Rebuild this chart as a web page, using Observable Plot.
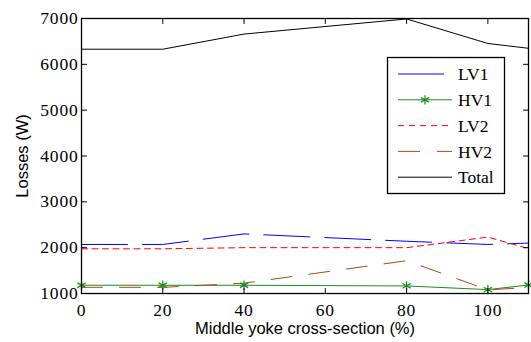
<!DOCTYPE html>
<html><head><meta charset="utf-8">
<script src="https://cdn.jsdelivr.net/npm/d3@7"></script>
<script src="https://cdn.jsdelivr.net/npm/@observablehq/plot@0.6"></script>
<style>
body{margin:0;background:#fff;}
#wrap{position:relative;width:531px;height:342px;}
#legend{position:absolute;left:0;top:0;}
</style>
</head><body><div id="wrap"></div>
<script>
const xs = [0, 20, 40, 80, 100, 110];
const lv1 = [2070, 2070, 2300, 2140, 2070, 2100];
const hv1 = [1180, 1180, 1180, 1165, 1085, 1185];
const lv2 = [1975, 1975, 2000, 2000, 2230, 1980];
const hv2 = [1135, 1135, 1225, 1715, 1080, 1130];
const total = [6330, 6330, 6660, 6990, 6455, 6350];
const xTicks = [0, 20, 40, 60, 80, 100];
const yTicks = [1000, 2000, 3000, 4000, 5000, 6000, 7000];
const seriesNames = ["LV1", "HV1", "LV2", "HV2", "Total"];

const styles = {
  LV1: {stroke: "#0000ff", dash: "46,15"},
  HV1: {stroke: "#1a8c1a", dash: null},
  LV2: {stroke: "#ff0000", dash: "6,4.5"},
  HV2: {stroke: "#a84a1e", dash: "21,17"},
  Total: {stroke: "#000000", dash: null}
};
const seriesVals = {LV1: lv1, HV1: hv1, LV2: lv2, HV2: hv2, Total: total};
const rows = name => xs.map((x, i) => ({x, y: seriesVals[name][i]}));

const tickShape = {draw(ctx, l) { ctx.moveTo(0, 0); ctx.lineTo(0, -l); }};
const tickOpts = {length: 5, anchor: "start", shape: tickShape, stroke: "black", strokeWidth: 1};

const serif = "'Liberation Serif', 'Times New Roman', serif";
const sans = "'Liberation Sans', Arial, sans-serif";

const lineMarks = seriesNames.map(n => Plot.line(rows(n), {
  x: "x", y: "y", stroke: styles[n].stroke, strokeWidth: 1,
  strokeDasharray: styles[n].dash
}));

const chart = Plot.plot({
  width: 531, height: 342,
  marginLeft: 81, marginRight: 3, marginTop: 18, marginBottom: 49,
  style: {fontFamily: serif, fontSize: "16px", background: "white"},
  x: {domain: [0, 110]},
  y: {domain: [1000, 7000]},
  marks: [
    Plot.axisX(xTicks, {tickSize: 0, tickPadding: 10, tickFormat: d3.format("d"), label: null}),
    Plot.axisY(yTicks, {tickSize: 0, tickPadding: 3, tickFormat: d3.format("d"), label: null}),
    ...lineMarks,
    Plot.dot(rows("HV1"), {x: "x", y: "y", symbol: "asterisk", r: 4.5, stroke: styles.HV1.stroke, strokeWidth: 1.2}),
    Plot.vector(xTicks, {x: d => d, y: 1000, rotate: 0, ...tickOpts}),
    Plot.vector(xTicks, {x: d => d, y: 7000, rotate: 180, ...tickOpts}),
    Plot.vector(yTicks, {y: d => d, x: 0, rotate: 90, ...tickOpts}),
    Plot.vector(yTicks, {y: d => d, x: 110, rotate: -90, ...tickOpts}),
    Plot.frame({stroke: "black", strokeWidth: 1.3}),
    Plot.text(["Losses (W)"], {frameAnchor: "left", dx: -59, rotate: -90, textAnchor: "middle", lineAnchor: "middle", text: d => d, fontFamily: sans, fontSize: 16.5}),
    Plot.text(["Middle yoke cross-section (%)"], {frameAnchor: "bottom", dy: 35, textAnchor: "middle", lineAnchor: "middle", text: d => d, fontFamily: sans, fontSize: 16.5})
  ]
});
// force serif font on numeric tick labels
d3.select(chart).selectAll("text").each(function() {
  if (/^\d+$/.test(this.textContent.trim())) {
    this.style.fontFamily = "Liberation Serif";
    this.style.fontSize = "17.5px";
    this.style.letterSpacing = "0.8px";
  }
});
document.getElementById("wrap").appendChild(chart);

// legend
const lg = d3.select("#wrap").append("svg").attr("id", "legend")
  .attr("width", 531).attr("height", 342);
lg.append("rect").attr("x", 387.5).attr("y", 57.5).attr("width", 117).attr("height", 136)
  .attr("fill", "white").attr("stroke", "black").attr("stroke-width", 1.3);
seriesNames.forEach((n, i) => {
  const y = 74 + i * 25.8;
  lg.append("line").attr("x1", 398).attr("x2", 452).attr("y1", y).attr("y2", y)
    .attr("stroke", styles[n].stroke).attr("stroke-width", 1)
    .attr("stroke-dasharray", n === "HV2" ? "22,17" : (n === "LV2" ? "6,5" : styles[n].dash));
  if (n === "HV1") {
    const s = d3.symbol(d3.symbolAsterisk, 60)();
    lg.append("path").attr("d", s).attr("transform", `translate(425,${y})`)
      .attr("fill", "none").attr("stroke", styles.HV1.stroke).attr("stroke-width", 1.2);
  }
  lg.append("text").attr("x", 458).attr("y", y).attr("dy", "0.35em")
    .style("font-family", "Liberation Serif").attr("font-size", 17.5).text(n);
});
</script>
</body></html>
